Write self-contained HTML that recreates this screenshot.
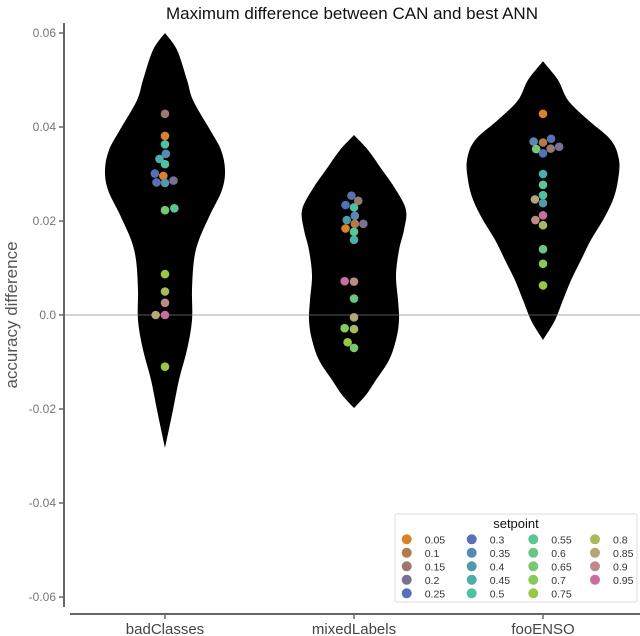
<!DOCTYPE html>
<html><head><meta charset="utf-8"><style>
html,body{margin:0;padding:0;background:#fff;}
svg{display:block;font-family:"Liberation Sans",sans-serif;}
</style></head><body>
<svg id="chart" width="640" height="636" viewBox="0 0 640 636">
<text x="352" y="19" text-anchor="middle" font-size="17" fill="#111">Maximum difference between CAN and best ANN</text>
<text transform="translate(17,315) rotate(-90)" text-anchor="middle" font-size="17" fill="#555">accuracy difference</text>
<g id="violins"></g>
<line x1="64" y1="315" x2="640" y2="315" stroke="rgba(128,128,128,0.45)" stroke-width="1.5"/>
<g id="points"></g>
<g id="yaxis"></g>
<g id="xaxis"></g>
<g id="legend"></g>
</svg>
<script>
const categories = ["badClasses","mixedLabels","fooENSO"];
const yTicks = [0.06,0.04,0.02,0.0,-0.02,-0.04,-0.06];
const yTickLabels = ["0.06","0.04","0.02","0.0","-0.02","-0.04","-0.06"];
const setpoints = [0.05,0.1,0.15,0.2,0.25,0.3,0.35,0.4,0.45,0.5,0.55,0.6,0.65,0.7,0.75,0.8,0.85,0.9,0.95];
const setpointLabels = ["0.05","0.1","0.15","0.2","0.25","0.3","0.35","0.4","0.45","0.5","0.55","0.6","0.65","0.7","0.75","0.8","0.85","0.9","0.95"];
const setpointColors = ["#d9822b","#b67a4a","#9a7a6e","#7b6f93","#5670b8","#5b6fb5","#5889b5","#4f9aab","#4aaea9","#4fc0a1","#5bc595","#6ac685","#78c873","#87c95c","#99c944","#a9b95d","#b5a577","#bd8a86","#c86e9f"];
// violin density profiles: values and relative widths
const v1Values = [0.06,0.0564,0.05,0.0457,0.0394,0.0351,0.0309,0.0266,0.0213,0.016,0.0117,0.0053,-0.0011,-0.0074,-0.0138,-0.0202,-0.0283];
const v1Widths = [0,12,22,28,45,56,60,57,45,34,29,27,27,22,14,8,0];
const v2Values = [0.0383,0.0351,0.0309,0.0266,0.0223,0.0181,0.0138,0.0085,0.0032,-0.0011,-0.0053,-0.0096,-0.0138,-0.017,-0.0198];
const v2Widths = [0,14,28,42,52,50,45,42,44,45,42,35,22,12,0];
const v3Values = [0.054,0.05,0.0457,0.0415,0.0372,0.033,0.0287,0.0245,0.0202,0.016,0.0117,0.0074,0.0032,-0.0011,-0.0053];
const v3Widths = [0,15,25,45,68,76,75,70,60,48,38,28,20,12,0];
// points: accuracy difference, setpoint, dodge slot offset
const p1Values = [0.0428,0.0381,0.0363,0.0343,0.0332,0.0321,0.0301,0.0296,0.0282,0.0281,0.0286,0.0223,0.0227,0.0087,0.005,0.0026,0,0,-0.011];
const p1Set = [0.15,0.05,0.5,0.35,0.45,0.5,0.25,0.05,0.3,0.4,0.2,0.65,0.55,0.75,0.8,0.9,0.85,0.95,0.75];
const p1Dodge = [0,0,0,0.1,-0.65,0,-1.2,-0.2,-1,0,1,0,1.1,0,0,0,-1.1,0,0];
const p2Values = [0.0254,0.0243,0.0234,0.0229,0.0211,0.0202,0.0194,0.0194,0.0184,0.0177,0.016,0.0072,0.0071,0.0035,-0.0005,-0.0028,-0.003,-0.0058,-0.007];
const p2Set = [0.3,0.15,0.25,0.5,0.35,0.4,0.1,0.2,0.05,0.55,0.45,0.95,0.9,0.6,0.85,0.7,0.8,0.75,0.65];
const p2Dodge = [-0.3,0.5,-1,0,0.1,-0.85,0.1,1.1,-1,0,0,-1.1,0,0,0,-1.1,0,-0.75,0];
const p3Values = [0.0428,0.0369,0.0375,0.0367,0.0353,0.0354,0.0358,0.0344,0.03,0.0277,0.0255,0.0246,0.0238,0.0212,0.0202,0.0191,0.014,0.0109,0.0063];
const p3Set = [0.05,0.35,0.3,0.1,0.65,0.15,0.2,0.25,0.45,0.55,0.5,0.85,0.4,0.95,0.9,0.8,0.6,0.7,0.75];
const p3Dodge = [0,-1.1,0.95,0,-0.8,0.9,1.9,0,0,0,0,-0.95,0,0,-0.9,0,0,0,0];

const violinValues=[v1Values,v2Values,v3Values], violinWidths=[v1Widths,v2Widths,v3Widths];
const pointValues=[p1Values,p2Values,p3Values], pointSets=[p1Set,p2Set,p3Set], pointDodges=[p1Dodge,p2Dodge,p3Dodge];

const NS="http://www.w3.org/2000/svg";
const yScale = v => 315 - v*4700;
const xScale = i => 165 + i*189;
function mk(tag, attrs, parent){const e=document.createElementNS(NS,tag);for(const k in attrs)e.setAttribute(k,attrs[k]);parent.appendChild(e);return e;}
function smooth(pts){
  let d="M"+pts[0][0]+","+pts[0][1];
  for(let i=0;i<pts.length-1;i++){
    const p0=pts[Math.max(0,i-1)],p1=pts[i],p2=pts[i+1],p3=pts[Math.min(pts.length-1,i+2)];
    const c1=[p1[0]+(p2[0]-p0[0])/6,p1[1]+(p2[1]-p0[1])/6];
    const c2=[p2[0]-(p3[0]-p1[0])/6,p2[1]-(p3[1]-p1[1])/6];
    d+=" C"+c1[0].toFixed(1)+","+c1[1].toFixed(1)+" "+c2[0].toFixed(1)+","+c2[1].toFixed(1)+" "+p2[0].toFixed(1)+","+p2[1].toFixed(1);
  }
  return d;
}
const gV=document.getElementById("violins");
categories.forEach((c,i)=>{
  const vals=violinValues[i], w=violinWidths[i], cx=xScale(i);
  const right=vals.map((v,j)=>[cx+w[j],yScale(v)]);
  const left=vals.map((v,j)=>[cx-w[j],yScale(v)]).reverse();
  const d=smooth(right)+" "+smooth(left).replace(/^M/,"L")+" Z";
  const p=mk("path",{d:d,fill:"#000"},gV);
  
  
});
const gP=document.getElementById("points");
categories.forEach((c,i)=>{
  pointValues[i].forEach((v,j)=>{
    const k=setpoints.indexOf(pointSets[i][j]);
    const dot=mk("circle",{cx:xScale(i)+pointDodges[i][j]*8.5,cy:yScale(v),r:4.3,fill:setpointColors[k]},gP);
    
    
  });
});
const gY=document.getElementById("yaxis");
mk("line",{x1:64,y1:23,x2:64,y2:607,stroke:"#666","stroke-width":2},gY);
yTicks.forEach((t,i)=>{
  const y=yScale(t);
  mk("line",{x1:59,y1:y,x2:64,y2:y,stroke:"#666","stroke-width":1.5},gY);
  const tx=mk("text",{x:56,y:y+4,"text-anchor":"end","font-size":12,fill:"#777"},gY);
  tx.textContent=yTickLabels[i];
  
  
});
const gX=document.getElementById("xaxis");
mk("line",{x1:70,y1:614,x2:640,y2:614,stroke:"#666","stroke-width":2},gX);
categories.forEach((c,i)=>{
  const x=xScale(i);
  mk("line",{x1:x,y1:614,x2:x,y2:619,stroke:"#666","stroke-width":1.5},gX);
  const tx=mk("text",{x:x,y:634,"text-anchor":"middle","font-size":15,fill:"#444"},gX);
  tx.textContent=c;
  
  
});
const gL=document.getElementById("legend");
mk("rect",{x:395,y:514,width:242,height:88,fill:"#fff",stroke:"#ddd","stroke-width":1,rx:2},gL);
const lt=mk("text",{x:516,y:528,"text-anchor":"middle","font-size":13,fill:"#111"},gL);
lt.textContent="setpoint";


setpoints.forEach((s,k)=>{
  const col=Math.floor(k/5), row=k%5;
  const dx=[406.7,471.7,533.3,595][col], y=539.3+row*13.5;
  const e=mk("g",{},gL);
  
  
  mk("circle",{cx:dx,cy:y,r:5,fill:setpointColors[k]},e);
  const t=mk("text",{x:dx+18,y:y+4,"font-size":10.5,fill:"#333"},e);
  t.textContent=setpointLabels[k];
});
</script>
</body></html>
